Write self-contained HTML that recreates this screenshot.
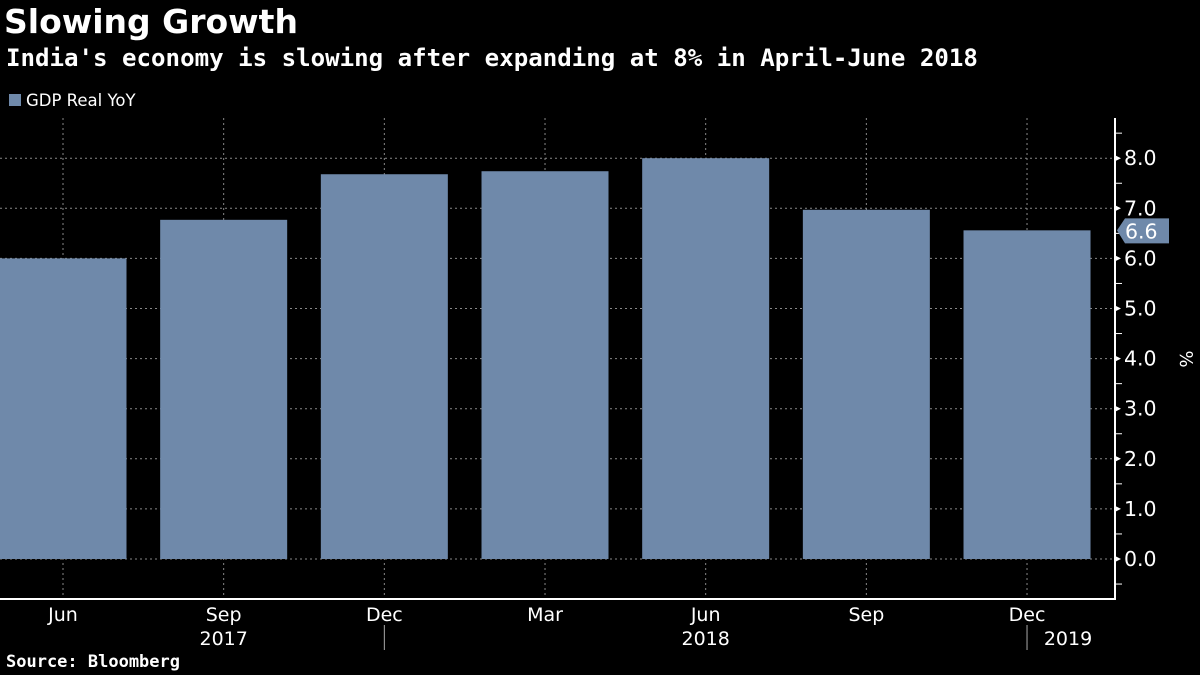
<!DOCTYPE html>
<html><head><meta charset="utf-8"><style>
body{margin:0;background:#000;width:1200px;height:675px;overflow:hidden;font-family:"DejaVu Sans","Liberation Sans",sans-serif;color:#fff}
.t{position:absolute;left:4px;top:2px;font-size:33px;font-weight:bold;margin:0}
.s{position:absolute;left:6px;top:44px;font-size:24.1px;font-weight:bold;font-family:"DejaVu Sans Mono","Liberation Mono",monospace}
.src{position:absolute;left:6px;top:652px;font-size:17px;font-weight:bold;font-family:"DejaVu Sans Mono","Liberation Mono",monospace}
</style></head><body>
<div class="t">Slowing Growth</div>
<div class="s">India's economy is slowing after expanding at 8% in April-June 2018</div>
<svg width="1200" height="675" style="position:absolute;left:0;top:0" id="c">
<rect x="9" y="94" width="12" height="12" fill="#6f89aa"/>
<text x="26" y="106" font-size="16.5" fill="#fff">GDP Real YoY</text>
</svg>
<div class="src">Source: Bloomberg</div>
<script>
const categories=["Jun","Sep","Dec","Mar","Jun","Sep","Dec"];
const values=[6.0,6.77,7.68,7.74,8.0,6.97,6.56];
const yTicks=[0,1,2,3,4,5,6,7,8];
const yearLabels=["2017","2018","2019"];
const yearIdx=[1,4,6];
const svg=document.getElementById('c');
const NS="http://www.w3.org/2000/svg";
const y=v=>559-v*50.1;
const x0=63,step=160.67,bw=127;
const x=i=>x0+i*step;
function mk(t,a,p){const e=document.createElementNS(NS,t);for(const k in a)e.setAttribute(k,a[k]);(p||svg).appendChild(e);return e;}
yTicks.forEach(v=>{
 const g=mk('line',{x1:0,x2:1115,y1:y(v),y2:y(v),stroke:'#888','stroke-dasharray':'2,3','stroke-width':1});
 
 
});
categories.forEach((c,i)=>{
 const g=mk('line',{x1:x(i),x2:x(i),y1:118,y2:599,stroke:'#888','stroke-dasharray':'2,3','stroke-width':1});
 
 
});
values.forEach((v,i)=>{
 const b=mk('rect',{x:x(i)-bw/2,y:y(v),width:bw,height:y(0)-y(v),fill:'#6f89aa'});
 
 
 const t=mk('text',{x:x(i),y:621,'font-size':19,fill:'#fff','text-anchor':'middle'});
 t.textContent=categories[i];
 
 
});
yearLabels.forEach((l,k)=>{
 const i=yearIdx[k];
 const t=mk('text',{x:k==2?x(i)+41:x(i),y:645,'font-size':19,fill:'#fff','text-anchor':'middle'});
 t.textContent=l;
 
 
});
[2,6].forEach(i=>{
 const s=mk('line',{x1:x(i),x2:x(i),y1:625,y2:650,stroke:'#aaa','stroke-width':1});
 
 
});
let a=mk('line',{x1:1115,x2:1115,y1:118,y2:599,stroke:'#fff','stroke-width':2});


a=mk('line',{x1:0,x2:1116,y1:599,y2:599,stroke:'#fff','stroke-width':2});


for(let v=-0.5;v<=8.5;v+=1){
 const m=mk('line',{x1:1115,x2:1122,y1:y(v),y2:y(v),stroke:'#fff','stroke-width':1});
 
 
}
yTicks.forEach(v=>{
 const p=mk('path',{d:`M1115 ${y(v)-3}L1121 ${y(v)}L1115 ${y(v)+3}Z`,fill:'#fff'});
 
 
 const t=mk('text',{x:1124,y:y(v)+7,'font-size':20.5,fill:'#fff'});
 t.textContent=v.toFixed(1);
 
 
});
const last=values[values.length-1];
const ly=y(last);
const tag=mk('path',{d:`M1117 ${ly}L1125 ${ly-12}L1169 ${ly-12}L1169 ${ly+13}L1125 ${ly+13}Z`,fill:'#6f89aa'});


const lt=mk('text',{x:1125,y:ly+8,'font-size':20.5,fill:'#fff'});
lt.textContent=last.toFixed(1);


const u=mk('text',{x:1180,y:359,'font-size':18,fill:'#fff','text-anchor':'middle',transform:'rotate(90 1180 359)'});
u.textContent='%';


</script>
</body></html>
